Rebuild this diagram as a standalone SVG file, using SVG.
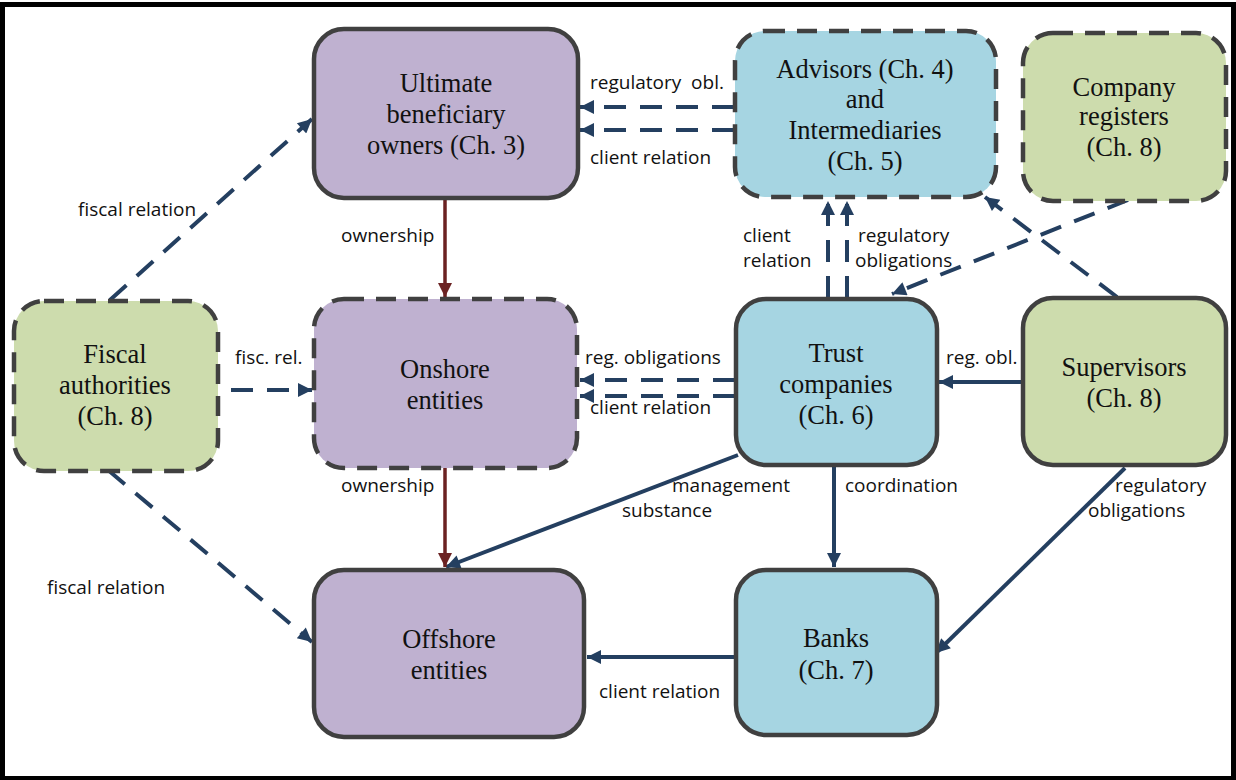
<svg xmlns="http://www.w3.org/2000/svg" width="1236" height="780" viewBox="0 0 1236 780">
<defs>
<style>
.node{stroke:#404040;stroke-width:4.5}
.dash{stroke-dasharray:20 12}
.pur{fill:#bfb1d0}
.blu{fill:#a6d5e2}
.grn{fill:#cddcad}
.nt{font-family:"Liberation Serif","Times New Roman",serif;font-size:26.5px;fill:#111;text-anchor:middle}
.lt{font-family:"Open Sans","Liberation Sans",sans-serif;font-size:19px;fill:#111}
.c{stroke:#243f60;stroke-width:4;fill:none}
.cd{stroke-dasharray:22 14}
.r{stroke:#6b2222;stroke-width:3.5;fill:none}
</style>
<marker id="a" viewBox="0 0 10 10" refX="10" refY="5" markerWidth="16" markerHeight="14" markerUnits="userSpaceOnUse" orient="auto"><path d="M0,0 L10,5 L0,10 Z" fill="#243f60"/></marker>
<marker id="ar" viewBox="0 0 10 10" refX="10" refY="5" markerWidth="16" markerHeight="14" markerUnits="userSpaceOnUse" orient="auto"><path d="M0,0 L10,5 L0,10 Z" fill="#6b2222"/></marker>
</defs>
<rect x="0" y="0" width="1236" height="780" fill="#fff"/>
<rect x="2.5" y="4.5" width="1231" height="774" fill="none" stroke="#000" stroke-width="5"/>

<g id="connectors">
<line class="c cd" x1="734" y1="107" x2="580" y2="107" marker-end="url(#a)"/>
<line class="c cd" x1="734" y1="130" x2="580" y2="130" marker-end="url(#a)"/>
<line class="c cd" x1="828" y1="298" x2="828" y2="201" marker-end="url(#a)"/>
<line class="c cd" x1="847" y1="298" x2="847" y2="201" marker-end="url(#a)"/>
<line class="c cd" x1="1117" y1="297" x2="985" y2="197" marker-end="url(#a)"/>
<line class="c cd" x1="1128" y1="200" x2="892" y2="294" marker-end="url(#a)"/>
<line class="c cd" x1="735" y1="380" x2="580" y2="380" marker-end="url(#a)"/>
<line class="c cd" x1="735" y1="396" x2="580" y2="396" marker-end="url(#a)"/>
<line class="c" x1="1022" y1="382" x2="939" y2="382" marker-end="url(#a)"/>
<line class="c" x1="738" y1="455" x2="446" y2="567" marker-end="url(#a)"/>
<line class="c" x1="834" y1="466" x2="834" y2="567" marker-end="url(#a)"/>
<line class="c" x1="1125" y1="468" x2="936" y2="653" marker-end="url(#a)"/>
<line class="c" x1="735" y1="657" x2="587" y2="657" marker-end="url(#a)"/>
<line class="r" x1="445" y1="198" x2="445" y2="297" marker-end="url(#ar)"/>
<line class="r" x1="445" y1="468" x2="445" y2="567" marker-end="url(#ar)"/>
<line class="c cd" x1="110" y1="300" x2="312" y2="119" marker-end="url(#a)"/>
<line class="c cd" x1="231" y1="390" x2="312" y2="390" marker-end="url(#a)"/>
<line class="c cd" x1="108" y1="470" x2="312" y2="642" marker-end="url(#a)"/>

<text class="lt" x="590" y="89" xml:space="preserve">regulatory  obl.</text>
<text class="lt" x="590" y="164">client relation</text>
<text class="lt" x="743" y="242">client</text>
<text class="lt" x="743" y="267">relation</text>
<text class="lt" x="858" y="242">regulatory</text>
<text class="lt" x="855" y="267">obligations</text>
<text class="lt" x="585" y="364">reg. obligations</text>
<text class="lt" x="590" y="414">client relation</text>
<text class="lt" x="946" y="364">reg. obl.</text>
<text class="lt" x="672" y="492">management</text>
<text class="lt" x="622" y="517">substance</text>
<text class="lt" x="845" y="492">coordination</text>
<text class="lt" x="1115" y="492">regulatory</text>
<text class="lt" x="1088" y="517">obligations</text>
<text class="lt" x="599" y="698">client relation</text>
<text class="lt" x="341" y="242">ownership</text>
<text class="lt" x="341" y="492">ownership</text>
<text class="lt" x="78" y="216">fiscal relation</text>
<text class="lt" x="235" y="364">fisc. rel.</text>
<text class="lt" x="47" y="594">fiscal relation</text>
</g>

<g id="ubo">
<rect class="node pur" x="314" y="29" width="264" height="169" rx="30"/>
<text class="nt" x="446" y="92">Ultimate</text>
<text class="nt" x="446" y="123">beneficiary</text>
<text class="nt" x="446" y="154">owners (Ch. 3)</text>
</g>
<g id="advisors">
<rect class="node blu dash" x="735" y="31" width="261" height="166" rx="30"/>
<text class="nt" x="865" y="78">Advisors (Ch. 4)</text>
<text class="nt" x="865" y="108">and</text>
<text class="nt" x="865" y="139">Intermediaries</text>
<text class="nt" x="865" y="170">(Ch. 5)</text>
</g>
<g id="registers">
<rect class="node grn dash" x="1023" y="33" width="203" height="168" rx="30"/>
<text class="nt" x="1124" y="96">Company</text>
<text class="nt" x="1124" y="125">registers</text>
<text class="nt" x="1124" y="156">(Ch. 8)</text>
</g>
<g id="fiscal">
<rect class="node grn dash" x="14" y="301" width="204" height="170" rx="30"/>
<text class="nt" x="115" y="363">Fiscal</text>
<text class="nt" x="115" y="394">authorities</text>
<text class="nt" x="115" y="425">(Ch. 8)</text>
</g>
<g id="onshore">
<rect class="node pur dash" x="314" y="299" width="263" height="169" rx="30"/>
<text class="nt" x="445" y="378">Onshore</text>
<text class="nt" x="445" y="409">entities</text>
</g>
<g id="trust">
<rect class="node blu" x="736" y="299" width="201" height="166" rx="30"/>
<text class="nt" x="836" y="362">Trust</text>
<text class="nt" x="836" y="393">companies</text>
<text class="nt" x="836" y="424">(Ch. 6)</text>
</g>
<g id="supervisors">
<rect class="node grn" x="1023" y="298" width="203" height="167" rx="30"/>
<text class="nt" x="1124" y="376">Supervisors</text>
<text class="nt" x="1124" y="407">(Ch. 8)</text>
</g>
<g id="offshore">
<rect class="node pur" x="314" y="570" width="270" height="167" rx="30"/>
<text class="nt" x="449" y="648">Offshore</text>
<text class="nt" x="449" y="679">entities</text>
</g>
<g id="banks">
<rect class="node blu" x="736" y="570" width="201" height="165" rx="30"/>
<text class="nt" x="836" y="647">Banks</text>
<text class="nt" x="836" y="679">(Ch. 7)</text>
</g>
</svg>
